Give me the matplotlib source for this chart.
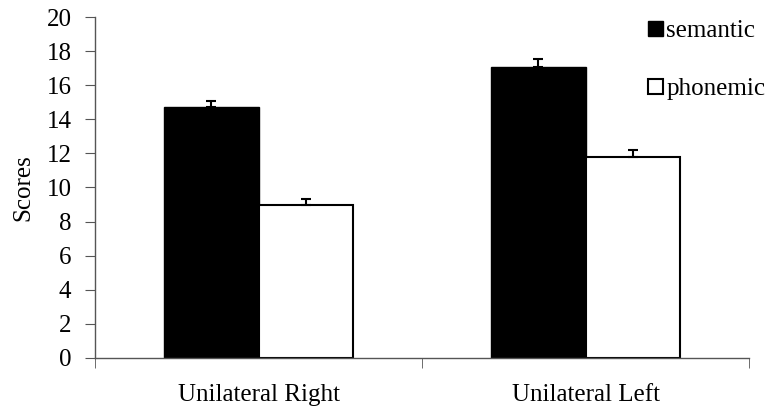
import matplotlib
matplotlib.use("Agg")
import matplotlib.pyplot as plt
from matplotlib.patches import Patch
import numpy as np

# datos
grupos = ["Unilateral Right", "Unilateral Left"]
semantic = [14.7, 17.1]
semantic_err = [0.35, 0.47]
phonemic = [9.0, 11.8]
phonemic_err = [0.35, 0.42]

plt.rcParams["font.family"] = ["Liberation Serif", "DejaVu Serif"]

fig = plt.figure(figsize=(7.67, 4.08), dpi=100)
ax = fig.add_axes([0.124, 0.123, 0.8525, 0.835])

x = np.arange(len(grupos)) + 0.5
w = 0.288
err_kw = dict(elinewidth=1.5, capthick=1.5, ecolor="black")

ax.bar(x - w / 2, semantic, w, color="black", edgecolor="black", lw=1,
       yerr=[[0, 0], semantic_err], capsize=3.5, error_kw=err_kw)
ax.bar(x + w / 2, phonemic, w, color="white", edgecolor="black", lw=1.5,
       yerr=[[0, 0], phonemic_err], capsize=3.5, error_kw=err_kw)

ax.set_xlim(0, 2)
ax.set_ylim(0, 20)
ax.set_yticks(range(0, 21, 2))
ax.set_xticks(x)
ax.set_xticklabels(grupos)
ax.set_xticks([0, 1, 2], minor=True)
ax.tick_params(axis="x", which="major", length=0, pad=19, labelsize=18)
ax.tick_params(axis="x", which="minor", length=7, color="#555555", direction="out")
ax.tick_params(axis="y", length=7, color="#555555", labelsize=18, pad=10)
ax.set_ylabel("Scores", fontsize=18, labelpad=9)

for s in ["top", "right"]:
    ax.spines[s].set_visible(False)
for s in ["left", "bottom"]:
    ax.spines[s].set_color("#555555")
    ax.spines[s].set_linewidth(1)

handles = [Patch(facecolor="black", edgecolor="black"),
           Patch(facecolor="white", edgecolor="black", lw=1.5)]
fig.legend(handles, ["semantic", "phonemic"], loc="upper left",
           bbox_to_anchor=(0.845, 0.95), frameon=False, fontsize=18,
           handlelength=0.6, handleheight=0.55, handletextpad=0.12,
           labelspacing=1.44, borderpad=0, borderaxespad=0)

fig.savefig("out.png", dpi=100, facecolor="white")
